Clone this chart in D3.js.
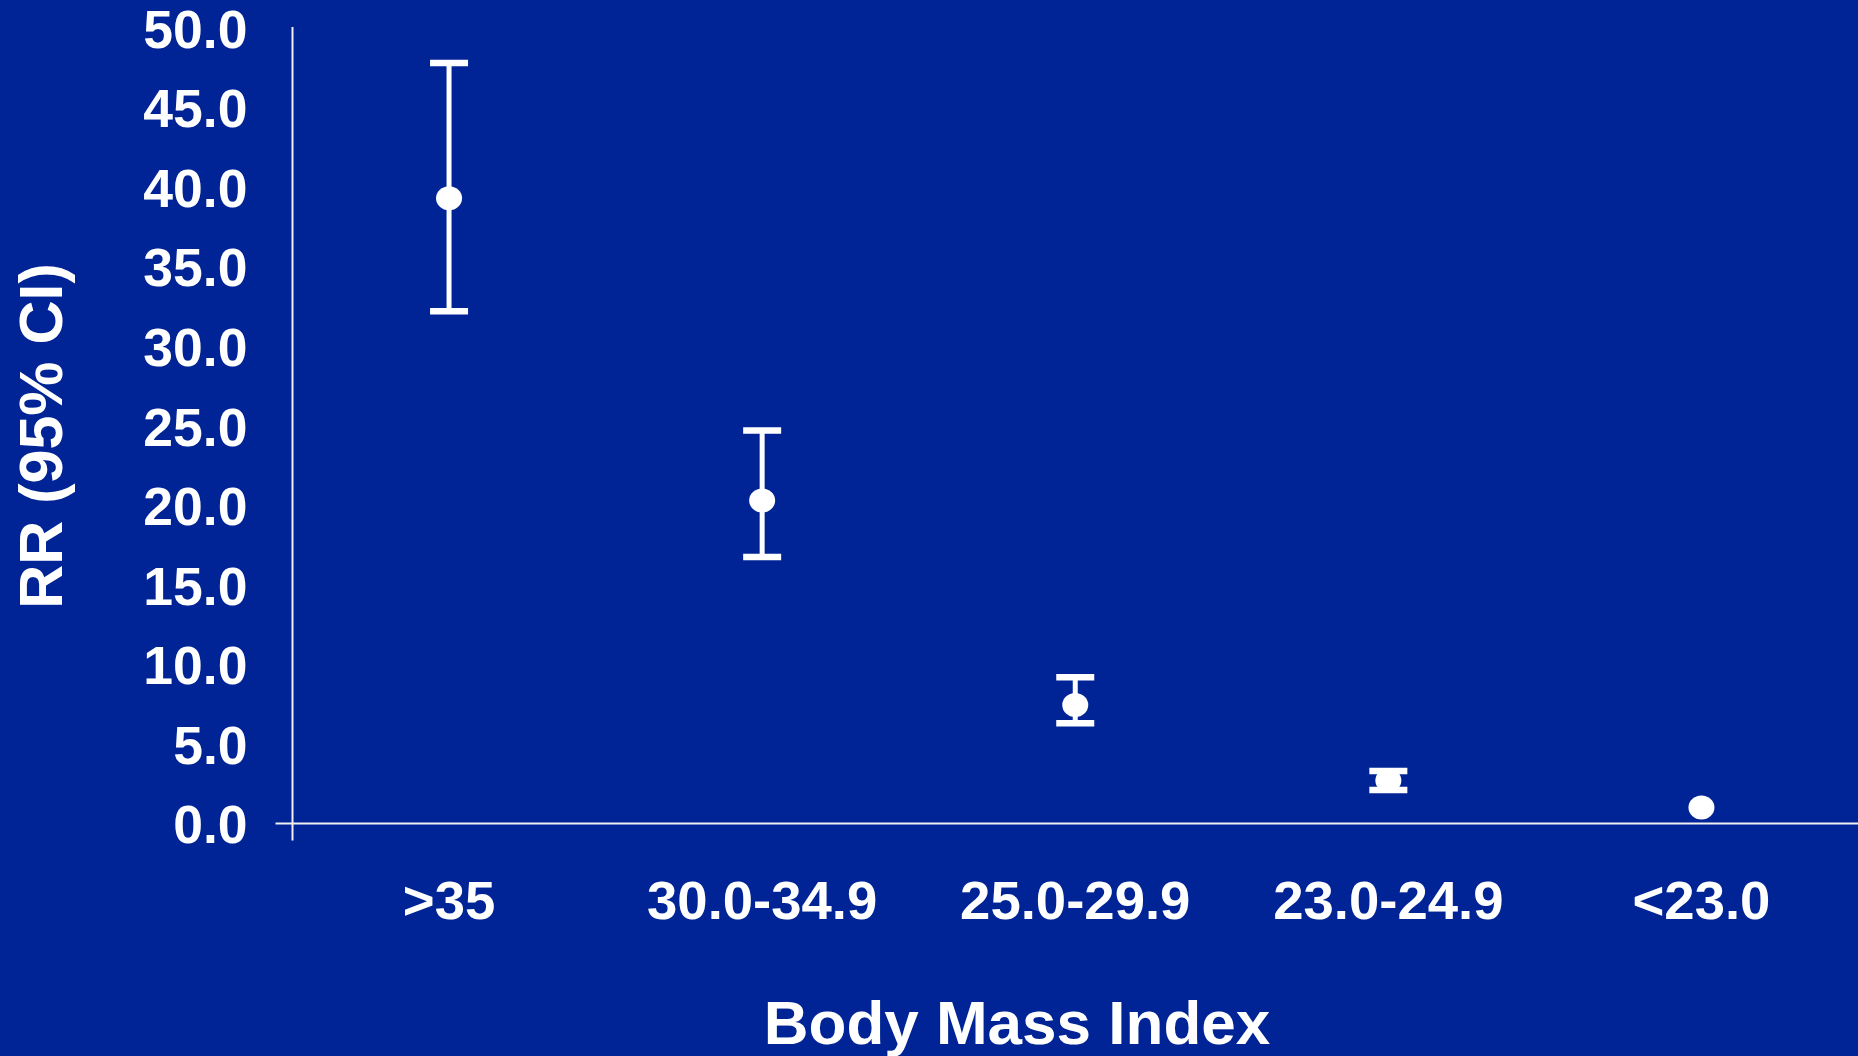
<!DOCTYPE html>
<html>
<head>
<meta charset="utf-8">
<script src="https://cdn.jsdelivr.net/npm/d3@7"></script>
<style>
  html, body { margin: 0; padding: 0; background: #002496; }
  svg { display: block; }
  text { font-family: "Liberation Sans", Arial, sans-serif; font-weight: bold; fill: #fff; }
</style>
</head>
<body>
<svg id="chart" width="1858" height="1056"></svg>
<script>
// BMI categories and relative risk with 95% CI
var categories = [">35", "30.0-34.9", "25.0-29.9", "23.0-24.9", "<23.0"];
var rr    = [39.3, 20.3, 7.45, 2.7, 1.0];
var lower = [32.2, 16.75, 6.3, 2.1, 1.0];
var upper = [47.8, 24.7, 9.2, 3.3, 1.0];
var yTicks = [0, 5, 10, 15, 20, 25, 30, 35, 40, 45, 50];

var svg = d3.select("#chart"),
    margin = {top: 28, right: 0, bottom: 232.5, left: 292.5},
    width  = +svg.attr("width")  - margin.left - margin.right,
    height = +svg.attr("height") - margin.top  - margin.bottom;

var data = categories.map(function(c, i) {
  return {cat: c, rr: rr[i], lo: lower[i], hi: upper[i]};
});

var x = d3.scaleBand().domain(categories).range([0, width]),
    y = d3.scaleLinear().domain([0, 50]).range([height, 0]);

var g = svg.append("g")
    .attr("transform", "translate(" + margin.left + "," + margin.top + ")");

// y axis: labels only, line drawn below
var yAxis = d3.axisLeft(y)
    .tickValues(yTicks)
    .tickFormat(d3.format(".1f"))
    .tickSize(0)
    .tickPadding(45);

g.append("g")
    .attr("class", "axis axis--y")
    .call(yAxis)
    .call(function(s) { s.select(".domain").remove(); })
    .selectAll("text")
    .style("font-size", "53.5px")
    .attr("dy", "0.36em");

var xAxis = d3.axisBottom(x).tickSize(0).tickPadding(95);

g.append("g")
    .attr("class", "axis axis--x")
    .attr("transform", "translate(0," + height + ")")
    .call(xAxis)
    .call(function(s) { s.select(".domain").remove(); })
    .selectAll("text")
    .style("font-size", "54.5px")
    .attr("dy", "0");

// axis lines
g.append("line")
    .attr("x1", 0).attr("x2", 0)
    .attr("y1", y(50) - 1).attr("y2", height + 17)
    .attr("stroke", "#f0f0f0").attr("stroke-width", 2);

g.append("line")
    .attr("x1", -17).attr("x2", width)
    .attr("y1", height).attr("y2", height)
    .attr("stroke", "#f0f0f0").attr("stroke-width", 2);

// error bars
var bars = g.selectAll(".err")
    .data(data.filter(function(d) { return d.hi > d.lo; }))
  .enter().append("g")
    .attr("class", "err")
    .attr("transform", function(d) { return "translate(" + (x(d.cat) + x.bandwidth() / 2) + ",0)"; });

bars.append("line")
    .attr("y1", function(d) { return y(d.hi); })
    .attr("y2", function(d) { return y(d.lo); })
    .attr("stroke", "#fff")
    .attr("stroke-width", 5);

bars.selectAll(".cap")
    .data(function(d) { return [d.hi, d.lo]; })
  .enter().append("line")
    .attr("class", "cap")
    .attr("x1", -19).attr("x2", 19)
    .attr("y1", function(v) { return y(v); })
    .attr("y2", function(v) { return y(v); })
    .attr("stroke", "#fff")
    .attr("stroke-width", 6.5);

g.selectAll(".dot")
    .data(data)
  .enter().append("ellipse")
    .attr("class", "dot")
    .attr("cx", function(d) { return x(d.cat) + x.bandwidth() / 2; })
    .attr("cy", function(d) { return y(d.rr); })
    .attr("rx", 13)
    .attr("ry", 12)
    .attr("fill", "#fff");

// axis titles
svg.append("text")
    .attr("x", 1017)
    .attr("y", 1044)
    .attr("text-anchor", "middle")
    .style("font-size", "62px")
    .text("Body Mass Index");

svg.append("text")
    .attr("transform", "translate(62,436) rotate(-90)")
    .attr("text-anchor", "middle")
    .style("font-size", "61px")
    .text("RR (95% CI)");
</script>
</body>
</html>
